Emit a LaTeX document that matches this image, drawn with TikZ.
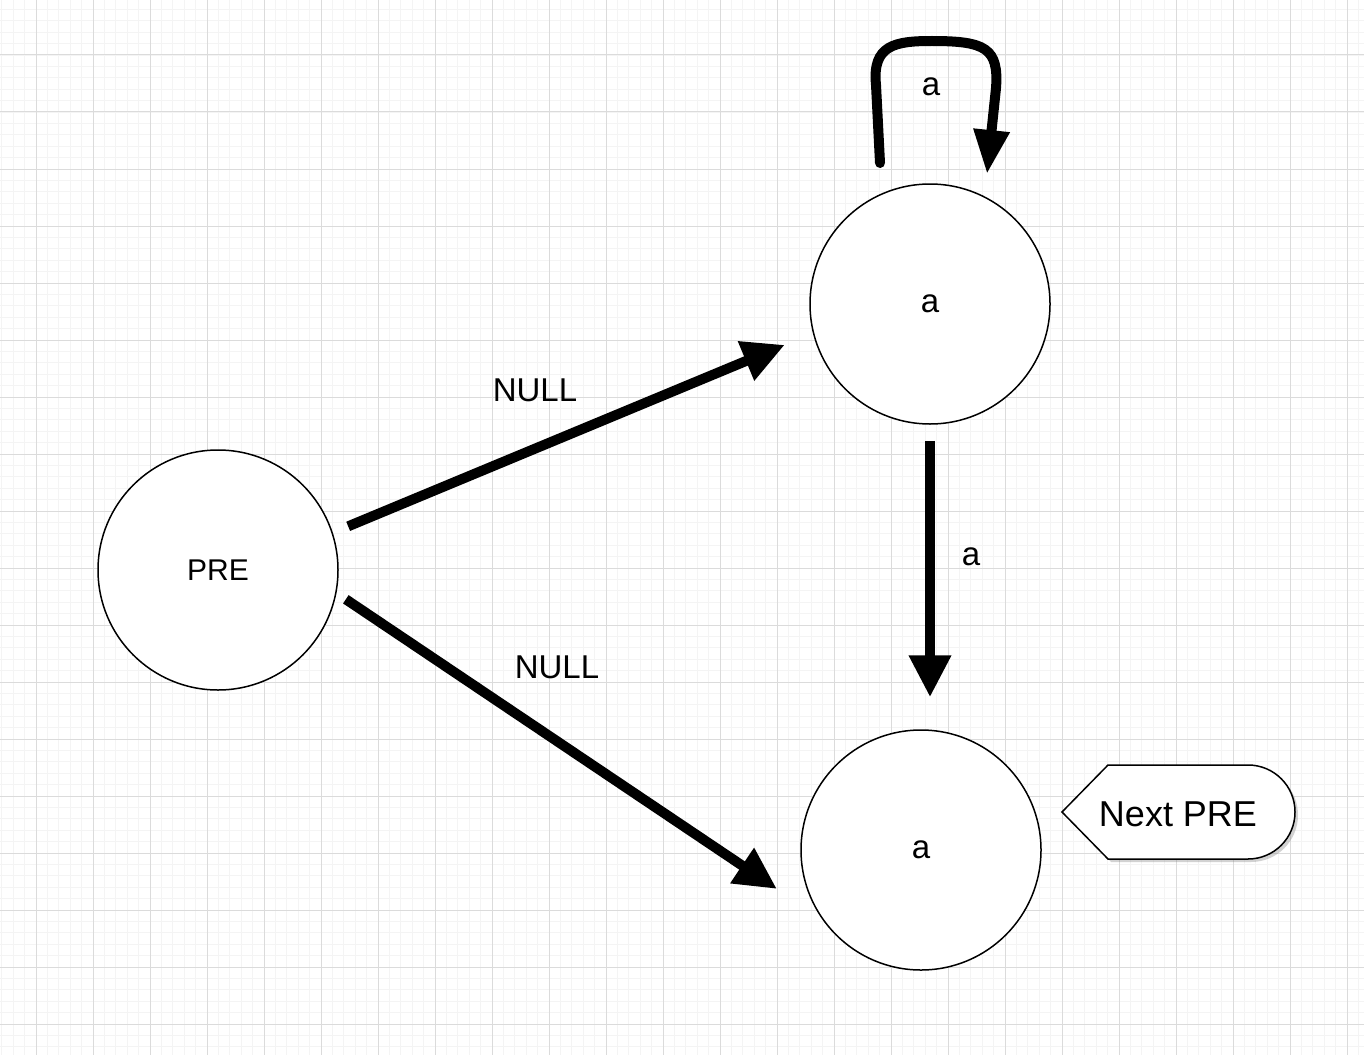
\documentclass[tikz,border=0pt]{standalone}
\usepackage{fontspec}
\setmainfont{Liberation Sans}
\usetikzlibrary{arrows.meta,shadows}
\tikzset{
  state/.style={circle,draw=black,line width=0.75pt,fill=white,minimum size=120pt,inner sep=0pt,font=\fontsize{15}{18}\selectfont},
  astate/.style={state,font=\fontsize{16.5}{19}\selectfont},
  thick arrow/.style={line width=5pt,-{Triangle[length=21pt,width=20pt]}},
  lbl/.style={font=\fontsize{16.5}{19}\selectfont,inner sep=0pt},
}
\begin{document}
\begin{tikzpicture}[x=0.5pt,y=-0.5pt]
\useasboundingbox (0,0) rectangle (1364,1054);
% grid background
\fill[white] (0,0) rectangle (1364,1054);
\begin{scope}
\clip (0,0) rectangle (1364,1054);
\begin{scope}[shift={(36,-2)}]
\draw[gray!9,line width=0.4pt,step=5.7pt] (-60,-60) grid (1400,1100);
\draw[gray!28,line width=0.5pt,step=28.5pt] (-60,-60) grid (1400,1100);
\end{scope}
\end{scope}
% nodes
\node[state] (pre) at (218,570) {PRE};
\node[astate] (ta) at (930,304) {a};
\node[astate] (ba) at (921,850) {a};
% edges
\draw[thick arrow,shorten <=8.3pt,shorten >=15.2pt] (pre.18.75) -- (ta.-166.8);
\draw[thick arrow,shorten <=5.6pt,shorten >=27.2pt] (pre.-11.44) -- (ba.-145.4);
\draw[thick arrow,shorten <=8pt,shorten >=16pt] (ta.south) -- (ta.south |- ba.north);
% self loop
\coordinate (ls) at (880,163);
\coordinate (le) at (987,174);
\draw[line width=5pt,line cap=round,-{Triangle[length=22pt,width=17pt]}]
  (ls) -- (876,85) .. controls (872,45) and (895,41) .. (932,41)
  .. controls (985,41) and (999,48) .. (996,88) -- (le);
% labels
\node[lbl] (l1) at (535,390) {NULL};
\node[lbl] (l2) at (557,667) {NULL};
\node[lbl] (l3) at (971,557) {a};
\node[lbl] (l4) at (931,87) {a};
% callout
\path[draw=black,line width=0.75pt,fill=white,drop shadow={shadow xshift=1.5pt,shadow yshift=-1.5pt,opacity=0.35}]
  (1062,812) -- (1108,765) -- (1248,765)
  .. controls (1274,765) and (1295,786) .. (1295,812)
  .. controls (1295,838) and (1274,859) .. (1248,859)
  -- (1108,859) -- cycle;
\node[font=\fontsize{18}{21}\selectfont,inner sep=0pt] (np) at (1178,814) {Next PRE};
\end{tikzpicture}
\end{document}
